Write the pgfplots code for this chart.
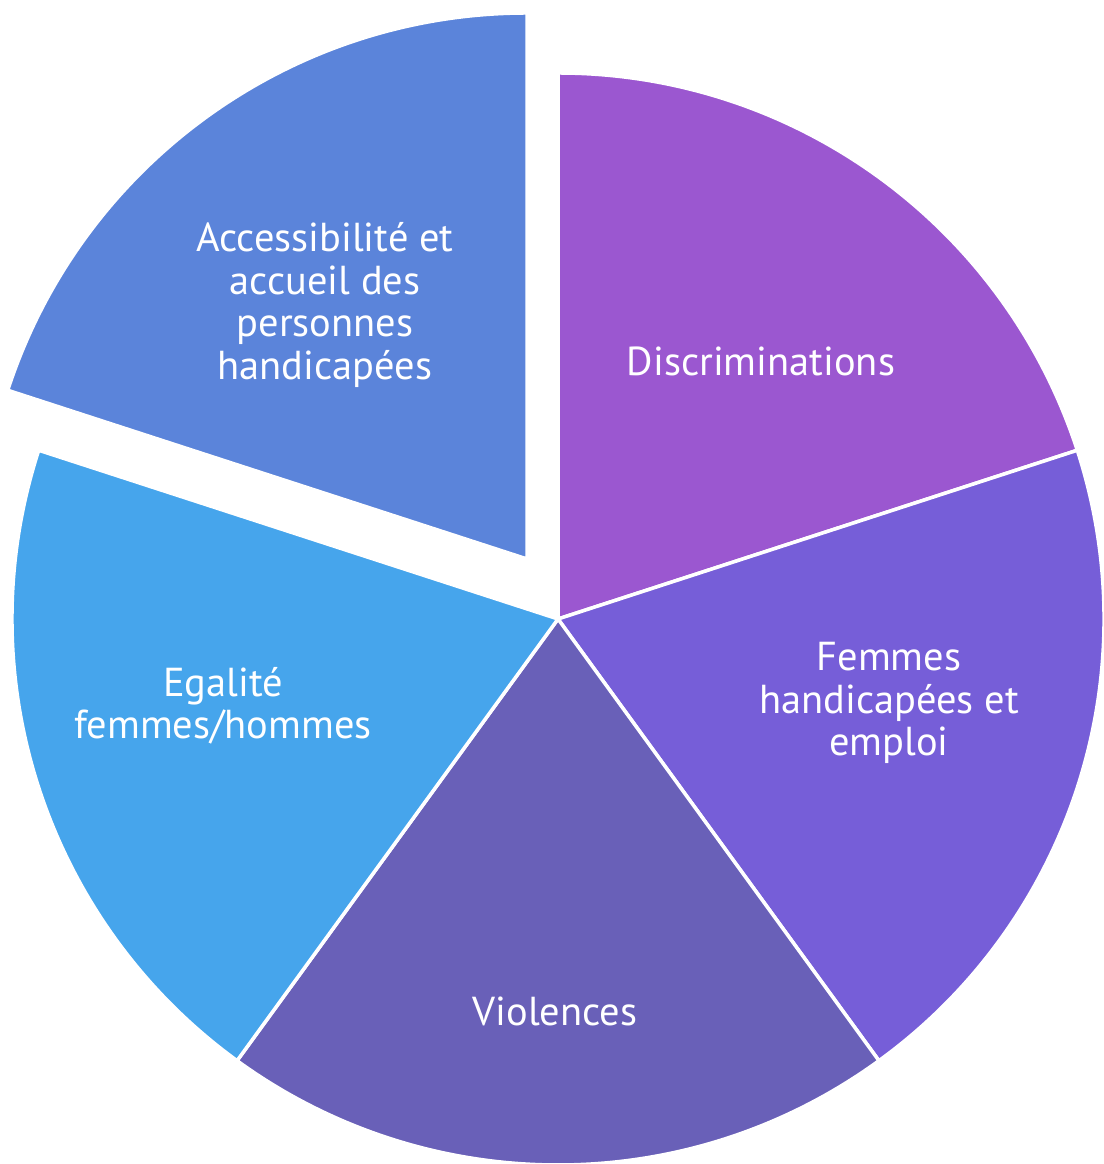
\documentclass[border=0pt]{standalone}
\usepackage{pgfplots}
\pgfplotsset{compat=1.18}
\usepackage{fontspec}
\setmainfont{PT Sans}
\definecolor{cDisc}{RGB}{155,87,208}
\definecolor{cFem}{RGB}{118,94,216}
\definecolor{cViol}{RGB}{105,96,184}
\definecolor{cEgal}{RGB}{70,165,236}
\definecolor{cAcc}{RGB}{91,132,218}
\begin{document}
\begin{tikzpicture}
\begin{axis}[hide axis, scale only axis, width=11.03cm, height=11.64cm,
  xmin=0, xmax=1103, ymin=0, ymax=1164, clip=false]
\addplot[draw=none] coordinates {(0,0) (1103,1164)};
% values: 20 20 20 20 20 (each 72 degrees), start at 90 deg, clockwise
\fill[cDisc, draw=white, line width=1pt] (axis cs:558,545) -- ++(90:5.46cm) arc[start angle=90, end angle=18, radius=5.46cm] -- cycle;
\fill[cFem, draw=white, line width=1pt] (axis cs:558,545) -- ++(18:5.46cm) arc[start angle=18, end angle=-54, radius=5.46cm] -- cycle;
\fill[cViol, draw=white, line width=1pt] (axis cs:558,545) -- ++(-54:5.46cm) arc[start angle=-54, end angle=-126, radius=5.46cm] -- cycle;
\fill[cEgal, draw=white, line width=1pt] (axis cs:558,545) -- ++(-126:5.46cm) arc[start angle=-126, end angle=-198, radius=5.46cm] -- cycle;
\fill[cAcc, draw=white, line width=1pt] (axis cs:527,605) -- ++(162:5.46cm) arc[start angle=162, end angle=90, radius=5.46cm] -- cycle;
\begin{scope}[every node/.style={text=white, align=center, font=\fontsize{11.5}{12.1}\selectfont}]
\node at (axis cs:761,803) {Discriminations};
\node at (axis cs:889,461) {Femmes\\handicapées et\\emploi};
\node at (axis cs:555,153) {Violences};
\node at (axis cs:223,458) {Egalité\\femmes/hommes};
\node at (axis cs:325,859) {Accessibilité et\\accueil des\\personnes\\handicapées};
\end{scope}
\end{axis}
\pgfresetboundingbox
\path (current axis.south west) rectangle (current axis.north east);
\end{tikzpicture}
\end{document}
